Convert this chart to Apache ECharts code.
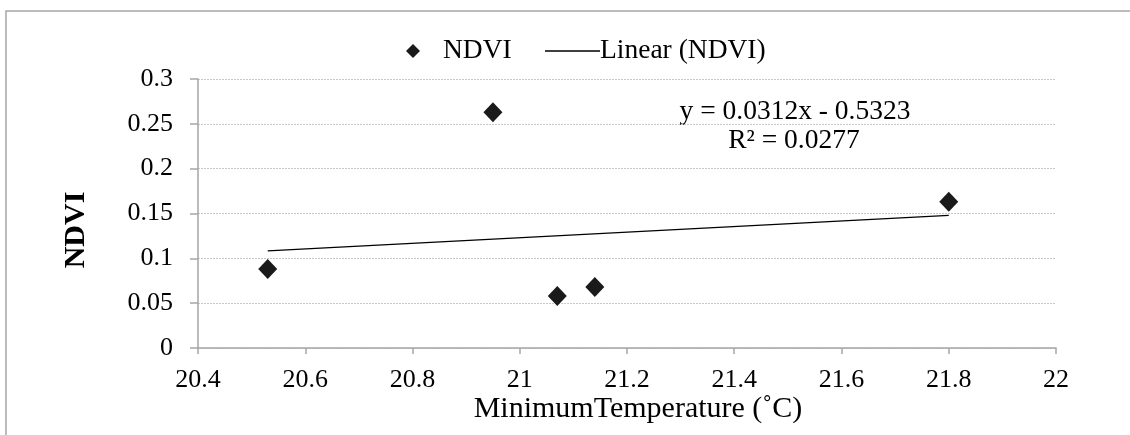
<!DOCTYPE html>
<html>
<head>
<meta charset="utf-8">
<script src="https://cdn.jsdelivr.net/npm/echarts@6/dist/echarts.min.js"></script>
<style>
  html, body { margin: 0; padding: 0; background: #fff; }
  #chart { width: 1130px; height: 435px; }
</style>
</head>
<body>
<div id="chart"></div>
<script>
// 数据
var minTemp = [20.53, 20.95, 21.07, 21.14, 21.80];
var ndvi = [0.088, 0.263, 0.058, 0.068, 0.163];
var yTicks = [0, 0.05, 0.1, 0.15, 0.2, 0.25, 0.3];
var xTicks = [20.4, 20.6, 20.8, 21, 21.2, 21.4, 21.6, 21.8, 22];
var slope = 0.0312, intercept = -0.5323;
var trendText = ['y = 0.0312x - 0.5323', 'R² = 0.0277'];

var font = '"Liberation Serif", "Times New Roman", serif';
var myChart = echarts.init(document.getElementById('chart'));

var points = minTemp.map(function (x, i) { return [x, ndvi[i]]; });
var xMin = Math.min.apply(null, minTemp), xMax = Math.max.apply(null, minTemp);
var trend = [[xMin, slope * xMin + intercept], [xMax, slope * xMax + intercept]];

var option = {
    backgroundColor: '#fff',
    animation: false,
    textStyle: { fontFamily: font, color: '#000' },
    grid: { left: 198, right: 74, top: 79, bottom: 87 },
    legend: [
        {
            data: [{ name: 'NDVI', icon: 'diamond' }],
            left: 401, top: 32,
            itemWidth: 14, itemHeight: 14, itemGap: 10,
            textStyle: { fontFamily: font, fontSize: 27.5, color: '#000', padding: [0, 0, 0, 18] }
        },
        {
            data: [{ name: 'Linear (NDVI)', icon: 'rect' }],
            left: 540, top: 32,
            itemWidth: 55, itemHeight: 1.5, itemGap: 0,
            textStyle: { fontFamily: font, fontSize: 27.5, color: '#000', padding: [0, 0, 0, -5] }
        }
    ],
    xAxis: {
        type: 'value', min: 20.4, max: 22, interval: 0.2,
        name: 'MinimumTemperature (˚C)', nameLocation: 'middle', nameGap: 46,
        nameMoveOverlap: false,
        nameTextStyle: { fontFamily: font, fontSize: 30, color: '#000', padding: [0, 0, 0, 22] },
        axisLine: { lineStyle: { color: '#a6a6a6', width: 1.5 } },
        axisTick: { show: true, inside: false, length: 6, lineStyle: { color: '#a6a6a6', width: 1.5 } },
        axisLabel: {
            fontFamily: font, fontSize: 26, color: '#000', margin: 19,
            formatter: function (v) { return String(+v.toFixed(1)); }
        },
        splitLine: { show: false }
    },
    yAxis: {
        type: 'value', min: 0, max: 0.3, interval: 0.05,
        name: 'NDVI', nameLocation: 'middle', nameGap: 107,
        nameMoveOverlap: false,
        nameTextStyle: { fontFamily: font, fontSize: 30, fontWeight: 'bold', color: '#000', padding: [0, 33, 0, 0] },
        axisLine: { show: true, lineStyle: { color: '#a6a6a6', width: 1.5 } },
        axisTick: { show: true, inside: false, length: 8, lineStyle: { color: '#a6a6a6', width: 1.5 } },
        axisLabel: {
            fontFamily: font, fontSize: 26, color: '#000', margin: 25,
            formatter: function (v) { return String(+v.toFixed(2)); }
        },
        splitLine: { show: true, lineStyle: { color: '#c8c8c8', type: [2, 1], width: 1 } }
    },
    graphic: [
        {
            type: 'polyline',
            shape: { points: [[6, 435], [6, 11], [1130, 11]] },
            style: { stroke: '#a6a6a6', lineWidth: 1.5, fill: null }
        },
        {
            type: 'text', x: 795, y: 112,
            style: { text: trendText[0], font: '27.5px ' + font, fill: '#000', align: 'center', verticalAlign: 'middle' }
        },
        {
            type: 'text', x: 794, y: 141,
            style: { text: trendText[1], font: '27.5px ' + font, fill: '#000', align: 'center', verticalAlign: 'middle' }
        }
    ],
    series: [
        {
            name: 'NDVI', type: 'scatter', data: points,
            symbol: 'diamond', symbolSize: [19, 20],
            itemStyle: { color: '#1a1a1a', opacity: 1 }
        },
        {
            name: 'Linear (NDVI)', type: 'line', data: trend,
            symbol: 'none', silent: true,
            lineStyle: { color: '#000', width: 1.2 },
            itemStyle: { color: '#000' }
        }
    ]
};

myChart.setOption(option);
</script>
</body>
</html>
